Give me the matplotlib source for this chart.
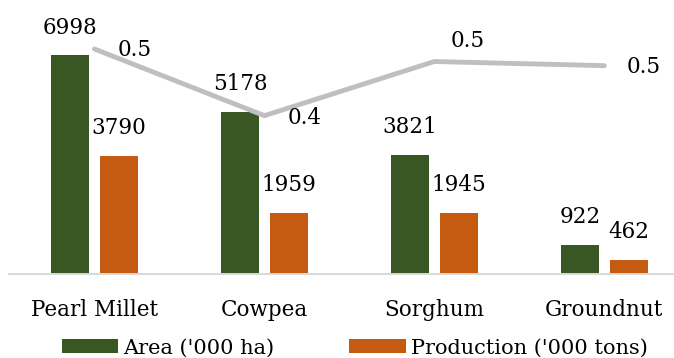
import numpy as np
import matplotlib
matplotlib.use('Agg')
import matplotlib.pyplot as plt

crops = ['Pearl Millet', 'Cowpea', 'Sorghum', 'Groundnut']
area = [6998, 5178, 3821, 922]
production = [3790, 1959, 1945, 462]
yield_t = [0.54, 0.38, 0.51, 0.50]

green = '#385723'
orange = '#C55A11'
grey = '#BFBFBF'

plt.rcParams['font.family'] = 'DejaVu Serif'
plt.rcParams['font.size'] = 15.5

fig = plt.figure(figsize=(6.74, 3.58), dpi=100)
ax = fig.add_axes([9/674, 1-274/358, 1-9/674, 250/358])
ax2 = ax.twinx()

x = np.arange(len(crops))
w = 0.224
off = 0.144
b1 = ax.bar(x - off, area, w, color=green, label="Area ('000 ha)")
b2 = ax.bar(x + off, production, w, color=orange, label="Production ('000 tons)")

for bars, vals in [(b1, area), (b2, production)]:
    for r, v in zip(bars, vals):
        ax.annotate(str(v), (r.get_x() + r.get_width()/2, v), xytext=(0, 20),
                    textcoords='offset points', ha='center', va='center')

ax2.plot(x, yield_t, color=grey, lw=3.5, solid_capstyle='round')
# label offsets (points) for the yield line
offs = [(29, -1), (29, -2), (24, 15), (28, -1)]
for xi, v, o in zip(x, yield_t, offs):
    ax2.annotate('%.1f' % v, (xi, v), xytext=o, textcoords='offset points',
                 ha='center', va='center')

ax.set_ylim(0, 8000)
ax2.set_ylim(0, 0.6)
ax.set_xlim(-0.503, 3.41)
ax.set_xticks(x)
ax.set_xticklabels(crops)
ax.tick_params(axis='x', length=0, pad=18)
ax.set_yticks([])
ax2.set_yticks([])
for a in (ax, ax2):
    for s in ['top', 'right', 'left']:
        a.spines[s].set_visible(False)
    a.spines['bottom'].set_color('#D9D9D9')
    a.spines['bottom'].set_linewidth(1.2)

ax.legend(handles=[b1, b2], loc='center', bbox_to_anchor=(0.52, -0.296),
          ncol=2, frameon=False, handlelength=2.7, handleheight=0.67,
          columnspacing=3.6, handletextpad=0.24, borderaxespad=0, borderpad=0,
          fontsize=15)

fig.savefig('out.png', dpi=100)
